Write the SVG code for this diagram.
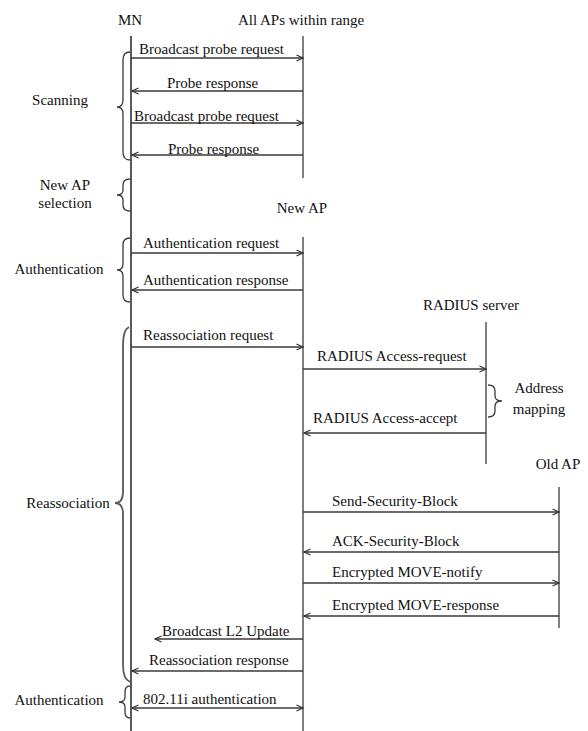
<svg xmlns="http://www.w3.org/2000/svg" width="588" height="731" viewBox="0 0 588 731" font-family="'Liberation Serif', 'Times New Roman', Times, 'DejaVu Serif', serif">
<style>
text{font-family:'Liberation Serif','Times New Roman',Times,'DejaVu Serif',serif;font-size:15px;fill:#111}
.c{text-anchor:middle}
.life{stroke:#3a3a3a;stroke-width:1.3;fill:none}
.mn{stroke:#5a5a5a;stroke-width:2;fill:none}
.msg{stroke:#3a3a3a;stroke-width:1.3;fill:none}
.r{marker-end:url(#ah)}
.b{marker-start:url(#ah);marker-end:url(#ah)}
.br{stroke:#3a3a3a;stroke-width:1.3;fill:none}
.brg{stroke:#5a5a5a;stroke-width:1.8;fill:none}
</style>
<defs>
<marker id="ah" markerUnits="userSpaceOnUse" markerWidth="9" markerHeight="8" refX="7" refY="4" orient="auto-start-reverse">
<path d="M0.5,1 L7,4 L0.5,7" fill="none" stroke="#333" stroke-width="1.2"/>
</marker>
</defs>
<g id="lifelines">
<g id="mn"><text class="c" x="130" y="25">MN</text><line class="mn" x1="131" y1="36" x2="131" y2="731"/></g>
<g id="allaps"><text class="c" x="301" y="25">All APs within range</text><line class="life" x1="303" y1="36" x2="303" y2="178"/></g>
<g id="newap"><text class="c" x="302" y="213">New AP</text><line class="life" x1="303" y1="237" x2="303" y2="731"/></g>
<g id="radius"><text class="c" x="471" y="310">RADIUS server</text><line class="life" x1="486" y1="322" x2="486" y2="464"/></g>
<g id="oldap"><text class="c" x="558" y="469">Old AP</text><line class="life" x1="559" y1="487" x2="559" y2="628"/></g>
</g>
<g id="phases">
<g id="scanning"><text class="c" x="60" y="105">Scanning</text><path class="br" d="M130,52 Q123,52 123,60 L123,100 Q123,107 117,107 Q123,107 123,114 L123,152 Q123,160 130,160"/></g>
<g id="selection"><text class="c" x="65" y="190">New AP</text><text class="c" x="65" y="208">selection</text><path class="br" d="M130,179 Q123,179 123,185 L123,190 Q123,195 117,195 Q123,195 123,200 L123,205 Q123,211 130,211"/></g>
<g id="auth1"><text class="c" x="59" y="274">Authentication</text><path class="br" d="M130,238 Q123,238 123,245 L123,264 Q123,270 117,270 Q123,270 123,276 L123,295 Q123,302 130,302"/></g>
<g id="reassoc"><text class="c" x="68" y="508">Reassociation</text><path class="brg" d="M129,327 Q123,330 123,345 L123,492 Q123,503 115,503 Q123,503 123,514 L123,665 Q123,679 130,682"/></g>
<g id="auth2"><text class="c" x="59" y="705">Authentication</text><path class="br" d="M130,686 Q125,686 125,692 L125,697 Q125,702 119,702 Q125,702 125,707 L125,712 Q125,718 130,718"/></g>
<g id="mapping"><text class="c" x="539" y="393">Address</text><text class="c" x="539" y="414">mapping</text><path class="br" d="M488,385 Q495,385 495,391 L495,396 Q495,401 502,401 Q495,401 495,406 L495,411 Q495,417 488,417"/></g>
</g>
<g id="connectors">
<line class="msg r" x1="131" y1="58" x2="303" y2="58"/>
<line class="msg r" x1="303" y1="91" x2="132" y2="91"/>
<line class="msg r" x1="131" y1="123" x2="303" y2="123"/>
<line class="msg r" x1="303" y1="155" x2="132" y2="155"/>
<line class="msg r" x1="131" y1="253" x2="303" y2="253"/>
<line class="msg r" x1="303" y1="290" x2="132" y2="290"/>
<line class="msg r" x1="131" y1="347" x2="303" y2="347"/>
<line class="msg r" x1="303" y1="369" x2="486" y2="369"/>
<line class="msg r" x1="486" y1="433" x2="304" y2="433"/>
<line class="msg r" x1="303" y1="512" x2="559" y2="512"/>
<line class="msg r" x1="559" y1="552" x2="304" y2="552"/>
<line class="msg r" x1="303" y1="583" x2="559" y2="583"/>
<line class="msg r" x1="559" y1="616" x2="304" y2="616"/>
<line class="msg r" x1="303" y1="639" x2="155" y2="639"/>
<line class="msg r" x1="303" y1="671" x2="132" y2="671"/>
<line class="msg b" x1="132" y1="708" x2="303" y2="708"/>
</g>
<g id="labels">
<text x="139" y="54">Broadcast probe request</text>
<text x="167" y="88">Probe response</text>
<text x="134" y="121">Broadcast probe request</text>
<text x="168" y="154">Probe response</text>
<text x="143" y="248">Authentication request</text>
<text x="143" y="285">Authentication response</text>
<text x="143" y="340">Reassociation request</text>
<text x="317" y="361">RADIUS Access-request</text>
<text x="313" y="423">RADIUS Access-accept</text>
<text x="332" y="506">Send-Security-Block</text>
<text x="332" y="546">ACK-Security-Block</text>
<text x="332" y="577">Encrypted MOVE-notify</text>
<text x="332" y="610">Encrypted MOVE-response</text>
<text x="162" y="636">Broadcast L2 Update</text>
<text x="149" y="665">Reassociation response</text>
<text x="143" y="704">802.11i authentication</text>
</g>
</svg>
